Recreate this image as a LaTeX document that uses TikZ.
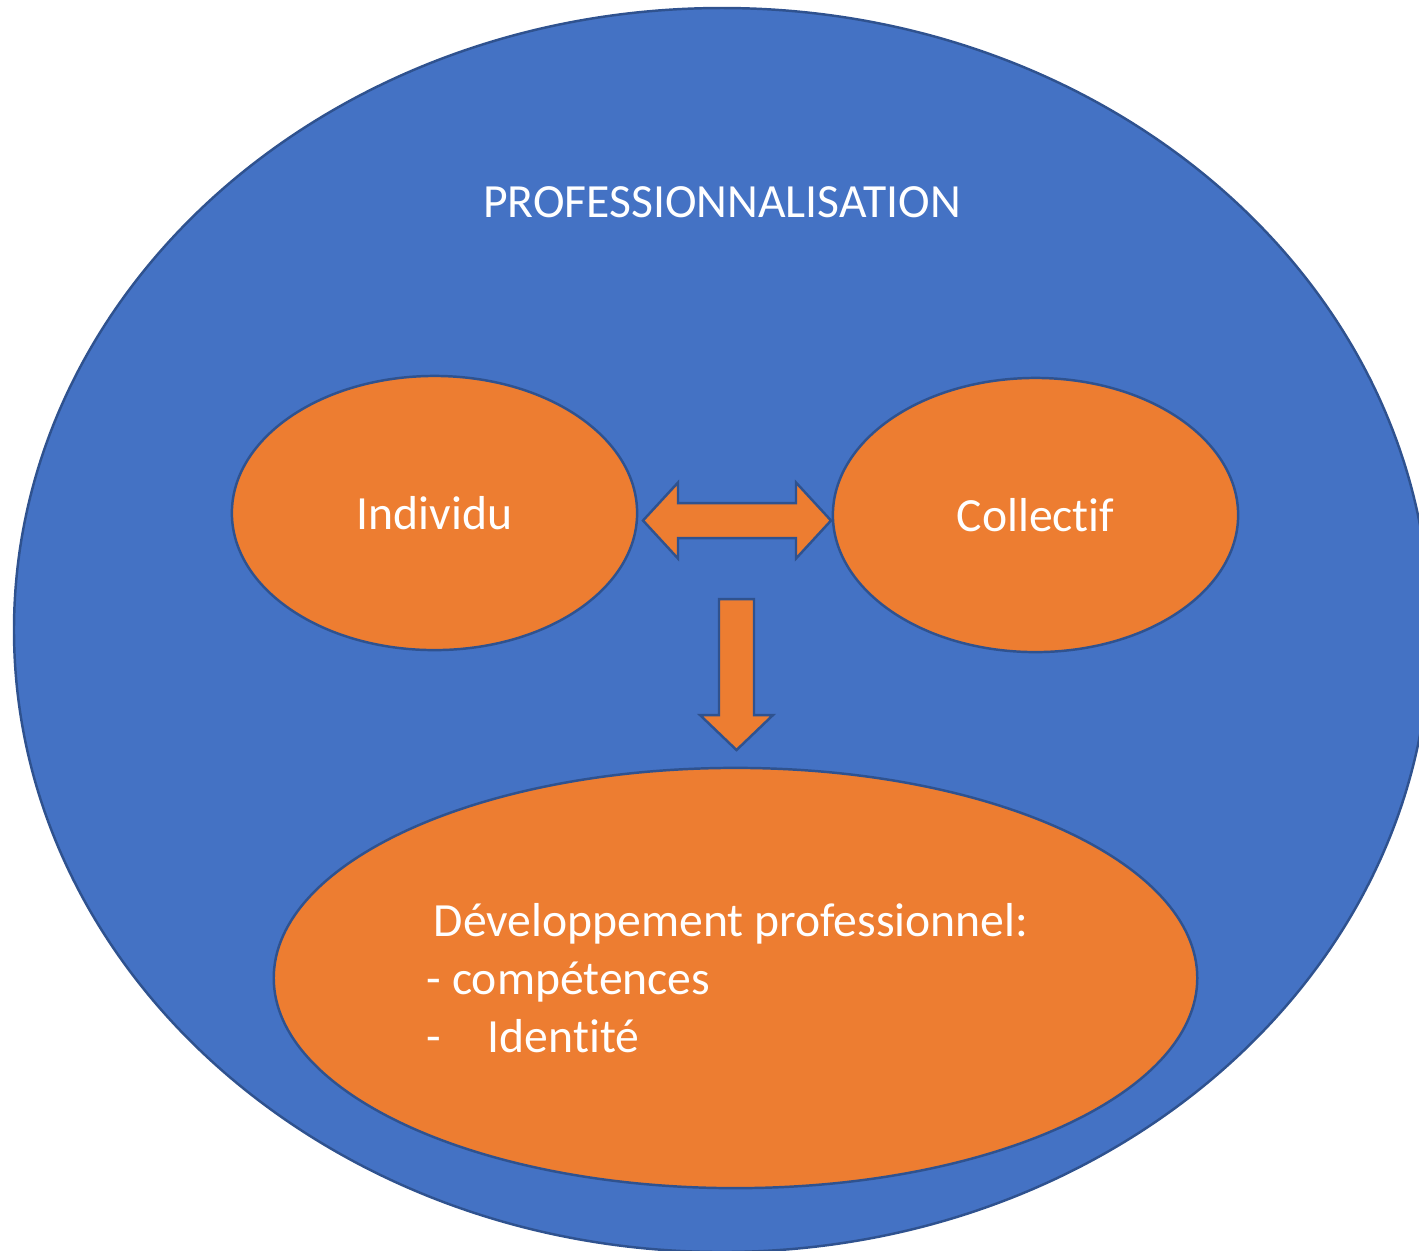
\documentclass[tikz,border=0pt]{standalone}
\usepackage{fontspec}
\setmainfont{Carlito}[Ligatures={NoCommon,NoContextual}]
\usetikzlibrary{shapes.geometric}
\definecolor{panelblue}{HTML}{4472C4}
\definecolor{bloborange}{HTML}{ED7D31}
\definecolor{rimblue}{HTML}{2F528F}
\begin{document}
\begin{tikzpicture}[
				x=0.01cm, y=-0.01cm,
				line width=0.7pt,
				label/.style={text=white, font=\fontsize{13.55}{16.4}\selectfont},
				blob/.style={ellipse, draw=rimblue, fill=bloborange, inner sep=0pt, label},
				blockarrow/.style={draw=rimblue, fill=bloborange, line join=miter},
				]
				\useasboundingbox (0,0) rectangle (1419,1250);
				\draw [draw=rimblue, fill=panelblue] (722,630) ellipse [x radius=708, y radius=622];
				\node [label] (title) at (722,202) {PROFESSIONNALISATION};
				\node [blob, minimum width=4.05cm, minimum height=2.74cm] (ind) at (434.5,513) {Individu};
				\node [blob, minimum width=4.05cm, minimum height=2.74cm] (col) at (1035.5,515) {Collectif};
				\node [blob, minimum width=9.23cm, minimum height=4.2cm, align=left] (dev) at (735.5,978)
								{\hspace*{0.07cm}Développement professionnel:\hspace*{0.16cm}\\- compétences\\\makebox[1.28em][l]{-}Identité};
				% double arrow between ind and col
				\draw [blockarrow] (643,520.5) -- (678,482.5) -- (678,503) -- (796,503) -- (796,482.5) -- (831,520.5)
								-- (796,558.5) -- (796,538) -- (678,538) -- (678,558.5) -- cycle;
				% arrow down to dev
				\draw [blockarrow] (719,599) -- (754,599) -- (754,715) -- (773,715) -- (736.5,750) -- (700,715) -- (719,715) -- cycle;
\end{tikzpicture}
\end{document}
